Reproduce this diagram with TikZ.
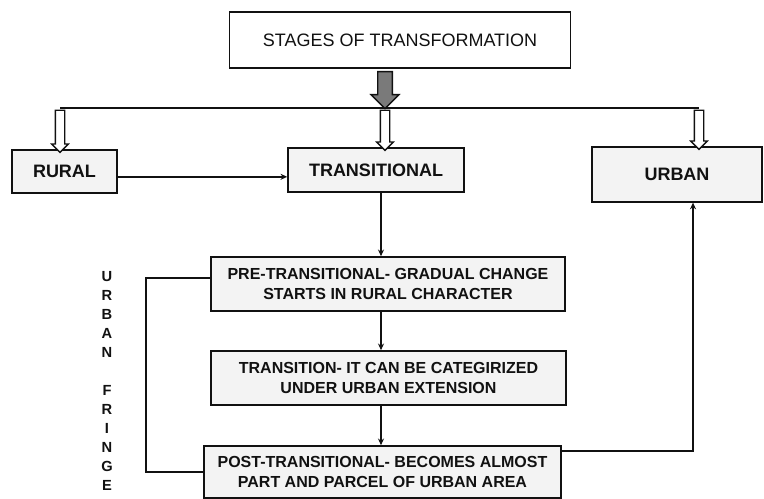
\documentclass[tikz,border=0pt]{standalone}
\usepackage{fontspec}
\setmainfont{Liberation Sans}
\usetikzlibrary{positioning, arrows.meta, shapes.arrows, calc}
\definecolor{clrborder}{HTML}{111111}
\definecolor{clrtext}{HTML}{111111}
\definecolor{clrboxfill}{HTML}{F3F3F3}
\definecolor{clrshaft}{HTML}{7A7A7A}

\begin{document}
\begin{tikzpicture}[
    x=0.75pt, y=-0.75pt,
    >=Stealth,
    every node/.style={text=clrtext},
    block/.style={draw=clrborder, fill=clrboxfill, line width=1.2pt, align=center,
                  inner sep=2pt, font=\bfseries\fontsize{12}{15}\selectfont},
    headblock/.style={block, fill=white, line width=1pt, font=\fontsize{13.5}{16}\selectfont},
    stageblock/.style={block, font=\bfseries\fontsize{13.5}{15}\selectfont},
    arrow/.style={->, line width=1.1pt, color=clrborder, >={Stealth[length=5pt, width=4.5pt]}},
    plainline/.style={line width=1.1pt, color=clrborder},
    fatarrow/.style={single arrow, draw=clrborder, fill=clrshaft, line width=1pt, rotate=-90,
                     inner xsep=0pt, inner ysep=5pt, single arrow head extend=5pt},
    thinarrow/.style={single arrow, draw=clrborder, fill=white, line width=1pt, rotate=-90,
                      inner xsep=0pt, inner ysep=3pt, single arrow head extend=2.75pt},
    sidelabel/.style={font=\bfseries\fontsize{11}{14.2}\selectfont, align=center},
]
\useasboundingbox (0,0) rectangle (764,499);
\node[headblock, minimum width=256pt, minimum height=42pt] (n_1) at (400,40) {STAGES OF TRANSFORMATION};
\node[stageblock, minimum width=79pt, minimum height=32pt] (n_2) at (64.5,171.5) {RURAL};
\node[stageblock, minimum width=132pt, minimum height=33pt] (n_3) at (376,170) {TRANSITIONAL};
\node[stageblock, minimum width=127.5pt, minimum height=41pt] (n_4) at (677,174.5) {URBAN};
\node[block, minimum width=265.5pt, minimum height=40.5pt] (n_5) at (388,284) {PRE-TRANSITIONAL- GRADUAL CHANGE\\STARTS IN RURAL CHARACTER};
\node[block, minimum width=266pt, minimum height=40.5pt] (n_6) at (388.5,378) {TRANSITION- IT CAN BE CATEGIRIZED\\UNDER URBAN EXTENSION};
\node[block, minimum width=268pt, minimum height=39pt] (n_7) at (382.5,472) {POST-TRANSITIONAL- BECOMES ALMOST\\PART AND PARCEL OF URBAN AREA};
\node[sidelabel] (lbl_fringe) at (107,381) {U\\R\\B\\A\\N\\[14.2pt]F\\R\\I\\N\\G\\E};
% distribution bar with block arrows
\coordinate (bar_l) at (60,108);
\coordinate (bar_r) at (699,108);
\coordinate (spine) at (381,0);
\draw[plainline] (bar_l) -- (bar_r);
\node[fatarrow, minimum height=27.75pt] (fa_0) at (385,86.5) {};
\node[thinarrow, minimum height=31.5pt] (ta_1) at (60,129) {};
\node[thinarrow, minimum height=30pt] (ta_2) at (385,128) {};
\node[thinarrow, minimum height=29.25pt] (ta_3) at (699,127.5) {};
% stages
\draw[arrow] ([yshift=-4pt]n_2.east) -- ([yshift=-4pt]n_2.east -| n_3.west);
\draw[arrow] (n_3.south -| spine) -- (n_5.north -| spine);
\draw[arrow] (n_5.south -| spine) -- (n_6.north -| spine);
\draw[arrow] (n_6.south -| spine) -- (n_7.north -| spine);
\draw[plainline] ([yshift=4.5pt]n_5.west) -- ++(-48pt,0) |- (n_7.west);
\draw[arrow] ([yshift=15.75pt]n_7.east) -| ([xshift=12pt]n_4.south);
\end{tikzpicture}
\end{document}
